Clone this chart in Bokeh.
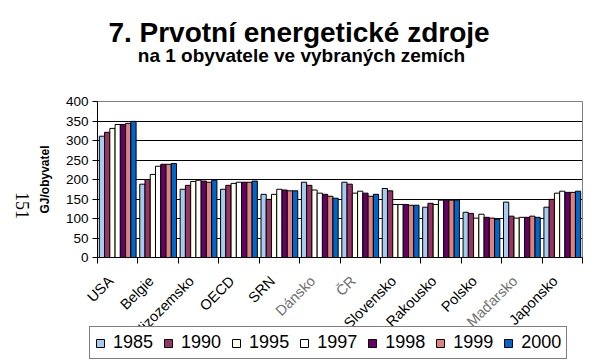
import math
from bokeh.plotting import figure
from bokeh.models import (ColumnDataSource, Range1d, LinearAxis, FixedTicker, Grid,
                          Legend, LegendItem, Label)
from bokeh.transform import dodge
from bokeh.embed import file_html
from bokeh.resources import INLINE

countries = ["USA", "Belgie", "Nizozemsko", "OECD", "SRN", "Dánsko", "ČR",
             "Slovensko", "Rakousko", "Polsko", "Maďarsko", "Japonsko"]
light_labels = ["Dánsko", "ČR", "Maďarsko"]
years = ["1985", "1990", "1995", "1997", "1998", "1999", "2000"]
colors = ["#A6CAF0", "#993366", "#FFFFEE", "#FFFFFF", "#660066", "#E08080", "#0066CC"]

v1985 = [311, 188, 175, 175, 162, 193, 193, 177, 129, 116, 142, 129]
v1990 = [321, 200, 185, 185, 149, 185, 188, 171, 139, 113, 106, 149]
v1995 = [331, 213, 195, 190, 162, 173, 165, 136, 136, 101, 101, 165]
v1997 = [341, 234, 198, 193, 175, 165, 170, 136, 147, 111, 103, 170]
v1998 = [341, 239, 196, 193, 173, 162, 165, 136, 147, 103, 103, 167]
v1999 = [344, 239, 193, 193, 171, 157, 157, 134, 147, 101, 106, 167]
v2000 = [349, 241, 198, 196, 171, 152, 162, 134, 147, 98, 103, 170]
series = [v1985, v1990, v1995, v1997, v1998, v1999, v2000]

y_ticks = [0, 50, 100, 150, 200, 250, 300, 350, 400]
title_text = "7. Prvotní energetické zdroje"
subtitle_text = "na 1 obyvatele ve vybraných zemích"
y_label = "GJ/obyvatel"
page_number = "151"

n = len(countries)
centers = [i + 0.5 for i in range(n)]          # category slot centres
boundaries = list(range(n + 1))                # category slot edges

data = {"cat": countries, "xc": centers}
for yr, s in zip(years, series):
    data["y" + yr] = s
source = ColumnDataSource(data)

FONT = "Liberation Sans"
W, H = 600, 362
PX_PER_CAT = 485 / n
PX_PER_UNIT = 156 / 400

p = figure(x_range=Range1d(-97 / PX_PER_CAT, n + 1 / PX_PER_CAT),
           y_range=Range1d(-(H - 257) / PX_PER_UNIT, 257 / PX_PER_UNIT),
           width=W, height=H, output_backend="svg", toolbar_location=None,
           x_axis_type=None, y_axis_type=None, title=None,
           min_border_left=0, min_border_right=W - 583, min_border_top=0, min_border_bottom=0)
p.background_fill_color = "white"
p.border_fill_color = "white"
p.outline_line_color = None
p.xgrid.visible = False
p.ygrid.visible = False

# grid lines (behind the bars)
p.add_layout(Grid(dimension=1, ticker=FixedTicker(ticks=y_ticks[:-1]), cross_bounds=(0, n),
                  grid_line_color="black", grid_line_width=1))
p.add_layout(Grid(dimension=1, ticker=FixedTicker(ticks=[y_ticks[-1]]), cross_bounds=(0, n),
                  grid_line_color="#808080", grid_line_width=1))
p.add_layout(Grid(dimension=0, ticker=FixedTicker(ticks=[n]), cross_bounds=(0, 400),
                  grid_line_color="#808080", grid_line_width=1))
# category boundary ticks below the x axis line
p.add_layout(Grid(dimension=0, ticker=FixedTicker(ticks=boundaries), cross_bounds=(-6 / PX_PER_UNIT, 0),
                  grid_line_color="black", grid_line_width=1, level="overlay"))

# bars
bw = 0.13
renderers = []
for j, yr in enumerate(years):
    r = p.vbar(x=dodge("xc", (j - 3) * bw), top="y" + yr, width=bw,
               source=source, fill_color=colors[j], line_color="black", line_width=1)
    renderers.append(r)

# y axis
ya = LinearAxis(ticker=FixedTicker(ticks=y_ticks), bounds=(0, 400), fixed_location=0,
                major_tick_out=5, major_tick_in=0, minor_tick_line_color=None,
                axis_line_color="black", major_tick_line_color="black",
                major_label_text_font=FONT, major_label_text_font_size="13.5px",
                major_label_text_color="black", major_label_standoff=4,
                axis_label=y_label, axis_label_text_font=FONT, axis_label_text_font_size="12px",
                axis_label_text_font_style="bold", axis_label_text_color="black",
                axis_label_standoff=11)
p.add_layout(ya, "left")

# category labels
for xc, c in zip(centers, countries):
    light = c in light_labels
    p.add_layout(Label(x=xc, y=0, x_offset=-7, y_offset=-21, angle=math.pi / 4,
                       text=c, text_align="right", text_baseline="middle",
                       text_font=FONT, text_font_size="14.5px",
                       text_color="#707070" if light else "black"))

# page number at the far left, reading downwards
p.add_layout(Label(x=22, y=H - 205, x_units="screen", y_units="screen", angle=-math.pi / 2,
                   text=page_number, text_align="center", text_baseline="middle",
                   text_font="Liberation Serif", text_font_size="18px", text_color="black"))

# titles
p.add_layout(Label(x=298.5, y=H - 31.5, x_units="screen", y_units="screen",
                   text=title_text, text_align="center", text_baseline="alphabetic",
                   text_font=FONT, text_font_size="28px", text_font_style="bold",
                   text_color="black"))
p.add_layout(Label(x=301, y=H - 55, x_units="screen", y_units="screen",
                   text=subtitle_text, text_align="center", text_baseline="alphabetic",
                   text_font=FONT, text_font_size="19px", text_font_style="bold",
                   text_color="black"))

# legend
items = [LegendItem(label=yr, renderers=[r]) for yr, r in zip(years, renderers)]
legend = Legend(items=items, orientation="horizontal", location=(89, 3),
                glyph_width=10, glyph_height=10, label_standoff=8, spacing=10,
                padding=5, margin=0, label_text_font=FONT, label_text_font_size="18px",
                label_text_color="black", label_height=18,
                border_line_color="black", border_line_width=1,
                background_fill_color="white", background_fill_alpha=1)
p.add_layout(legend, "center")

open("out.html", "w").write(file_html(p, INLINE))
